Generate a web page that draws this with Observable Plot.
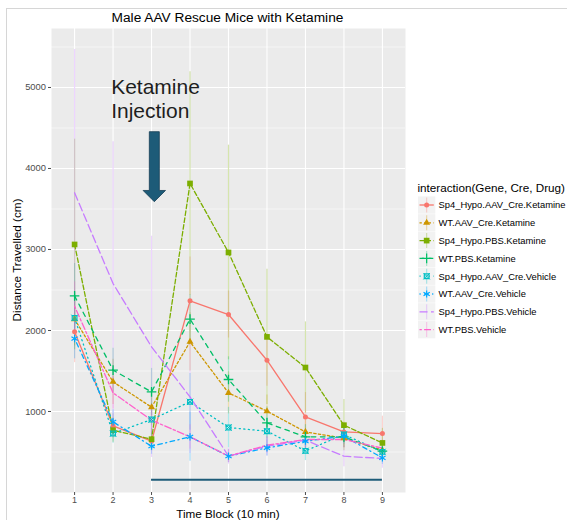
<!DOCTYPE html>
<html><head><meta charset="utf-8">
<script src="https://cdn.jsdelivr.net/npm/d3@7"></script>
<script src="https://cdn.jsdelivr.net/npm/@observablehq/plot@0.6"></script>
<style>
body{margin:0;background:#fff;font-family:"Liberation Sans",Arial,sans-serif}
#wrap{position:relative;width:567px;height:520px;overflow:hidden}
#frame{position:absolute;left:6px;top:8px;width:700px;height:700px;border-left:1px solid #D6D6D6;border-top:1px solid #D6D6D6;pointer-events:none}
</style>
</head><body><div id="wrap"><div id="chart"></div><div id="frame"></div></div>
<script>
// ---------------- data ----------------
const blocks = [1, 2, 3, 4, 5, 6, 7, 8, 9];
const groups = ["Sp4_Hypo.AAV_Cre.Ketamine", "WT.AAV_Cre.Ketamine", "Sp4_Hypo.PBS.Ketamine", "WT.PBS.Ketamine",
                "Sp4_Hypo.AAV_Cre.Vehicle", "WT.AAV_Cre.Vehicle", "Sp4_Hypo.PBS.Vehicle", "WT.PBS.Vehicle"];
const colors = ["#F8766D", "#CD9600", "#7CAE00", "#00BE67", "#00BFC4", "#00A9FF", "#C77CFF", "#FF61CC"];

const sp4AavKetMean = [1983, 822, 633, 2366, 2197, 1633, 933, 748, 728];
const sp4AavKetErr  = [380, 150, 120, 540, 290, 320, 300, 120, 214];
const wtAavKetMean  = [2140, 1366, 1053, 1860, 1230, 1004, 748, 670, 522];
const wtAavKetErr   = [330, 280, 230, 360, 260, 200, 150, 120, 100];
const sp4PbsKetMean = [3062, 769, 658, 3815, 2963, 1921, 1543, 831, 612];
const sp4PbsKetErr  = [1300, 150, 130, 1380, 1325, 836, 563, 317, 180];
const wtPbsKetMean  = [2427, 1510, 1242, 2140, 1395, 859, 687, 687, 510];
const wtPbsKetErr   = [400, 270, 290, 300, 280, 200, 150, 130, 100];
const sp4AavVehMean = [2156, 728, 901, 1119, 802, 757, 514, 716, 501];
const sp4AavVehErr  = [300, 120, 200, 350, 250, 170, 120, 100, 80];
const wtAavVehMean  = [1900, 872, 571, 687, 448, 551, 633, 695, 427];
const wtAavVehErr   = [250, 150, 100, 300, 80, 100, 100, 100, 80];
const sp4PbsVehMean = [3700, 2580, 1798, 1180, 450, 572, 646, 448, 420];
const sp4PbsVehErr  = [1770, 1750, 1366, 700, 100, 120, 120, 130, 120];
const wtPbsVehMean  = [2300, 1230, 893, 687, 450, 584, 654, 654, 547];
const wtPbsVehErr   = [300, 200, 150, 150, 80, 100, 100, 100, 100];

const seriesMeans = [sp4AavKetMean, wtAavKetMean, sp4PbsKetMean, wtPbsKetMean, sp4AavVehMean, wtAavVehMean, sp4PbsVehMean, wtPbsVehMean];
const seriesErrs  = [sp4AavKetErr, wtAavKetErr, sp4PbsKetErr, wtPbsKetErr, sp4AavVehErr, wtAavVehErr, sp4PbsVehErr, wtPbsVehErr];

const yTicks = [1000, 2000, 3000, 4000, 5000];
const yMinor = [500, 1500, 2500, 3500, 4500, 5500];

const titleText = "Male AAV Rescue Mice with Ketamine";
const xTitle = "Time Block (10 min)";
const yTitle = "Distance Travelled (cm)";
const legendTitle = "interaction(Gene, Cre, Drug)";
const annotText = ["Ketamine\nInjection"];
const annotX = [1.95];
const annotY = [5125];
const arrowX = 3.085, arrowTop = 4448, arrowTip = 3584;
const barX1 = [3], barX2 = [9], barY = [157];

// ---------------- styles ----------------
const u = 1.15;
const dashOf = s => s === null ? null : s.split("").map(c => parseInt(c, 16) * u).join(",");
const linetypes = [null, "22", "42", "44", "13", "1343", "73", "2262"];
const shapes = ["circle", "triangle", "square", "plus", "sqx", "asterisk", null, null];

const rows = [];
groups.forEach((g, i) => blocks.forEach((b, j) => rows.push({
  block: b, group: g, mean: seriesMeans[i][j],
  lo: seriesMeans[i][j] - seriesErrs[i][j], hi: seriesMeans[i][j] + seriesErrs[i][j]
})));

function pointMarks(data, i) {
  const c = colors[i], s = shapes[i], out = [];
  const base = {x: "block", y: "mean"};
  if (s === "circle") out.push(Plot.dot(data, {...base, symbol: "circle", r: 2.5, fill: c, stroke: "none"}));
  if (s === "triangle") out.push(Plot.dot(data, {...base, symbol: "triangle", r: 2.6, fill: c, stroke: "none"}));
  if (s === "square") out.push(Plot.dot(data, {...base, symbol: "square", r: 3.2, fill: c, stroke: "none"}));
  if (s === "plus") out.push(Plot.dot(data, {...base, symbol: "plus", r: 3.2, fill: "none", stroke: c, strokeWidth: 1.3}));
  if (s === "sqx") {
    out.push(Plot.dot(data, {...base, symbol: "square2", r: 3.0, fill: "none", stroke: c, strokeWidth: 1.2}));
    out.push(Plot.dot(data, {...base, symbol: "times", r: 3.0, fill: "none", stroke: c, strokeWidth: 1.0}));
  }
  if (s === "asterisk") out.push(Plot.dot(data, {...base, symbol: "asterisk", r: 3.4, fill: "none", stroke: c, strokeWidth: 1.2}));
  return out;
}

const lineMarks = groups.map((g, i) => Plot.line(rows.filter(r => r.group === g), {
  x: "block", y: "mean", stroke: colors[i], strokeWidth: 1.3, strokeDasharray: dashOf(linetypes[i])
}));
const dotMarks = groups.flatMap((g, i) => pointMarks(rows.filter(r => r.group === g), i));

// decorations (arrow, titles, legend) drawn through the plot's scales
function decor(index, scales, values, dimensions) {
  const g = d3.create("svg:g").attr("text-anchor", "start");
  const x = scales.x, y = scales.y;
  // arrow
  const ax = x(arrowX), at = y(arrowTop), tip = y(arrowTip);
  const hw = 5, hh = 11.2, hwid = 11.2;
  const hb = tip - hh;
  g.append("path")
    .attr("d", `M${ax - hw},${at}L${ax + hw},${at}L${ax + hw},${hb}L${ax + hwid},${hb}L${ax},${tip}L${ax - hwid},${hb}L${ax - hw},${hb}Z`)
    .attr("fill", "#1D5B78").attr("stroke", "#163F55").attr("stroke-width", 0.8);
  // titles
  g.append("text").attr("x", 227.5).attr("y", 22).attr("text-anchor", "middle")
    .attr("font-size", 13.7).attr("fill", "#000").text(titleText);
  g.append("text").attr("x", 228).attr("y", 517.5).attr("text-anchor", "middle")
    .attr("font-size", 11.7).attr("fill", "#000").text(xTitle);
  g.append("text").attr("transform", "translate(21,260) rotate(-90)").attr("text-anchor", "middle")
    .attr("font-size", 11.7).attr("fill", "#000").text(yTitle);
  // legend
  const lx = 418, ly0 = 205, step = 17.8;
  g.append("text").attr("x", lx - 0.5).attr("y", 192).attr("text-anchor", "start").attr("font-size", 11.7).attr("fill", "#000").text(legendTitle);
  groups.forEach((name, i) => {
    const cy = ly0 + i * step;
    const c = colors[i];
    g.append("rect").attr("x", lx).attr("y", cy - 8.6).attr("width", 17.3).attr("height", 17.3).attr("fill", "#F2F2F2");
    g.append("line").attr("x1", lx + 8.65).attr("x2", lx + 8.65).attr("y1", cy - 7.5).attr("y2", cy + 7.5)
      .attr("stroke", c).attr("stroke-opacity", 0.3).attr("stroke-width", 1.2);
    g.append("line").attr("x1", lx + 1.5).attr("x2", lx + 15.8).attr("y1", cy).attr("y2", cy)
      .attr("stroke", c).attr("stroke-width", 1.3).attr("stroke-dasharray", dashOf(linetypes[i]));
    const s = shapes[i];
    const sym = {circle: d3.symbolCircle, triangle: d3.symbolTriangle, square: d3.symbolSquare, plus: d3.symbolPlus, asterisk: d3.symbolAsterisk}[s];
    const rr = {circle: 2.5, triangle: 2.6, square: 3.2, plus: 3.2, asterisk: 3.4}[s];
    if (sym) {
      const filled = s === "circle" || s === "triangle" || s === "square";
      g.append("path").attr("transform", `translate(${lx + 8.65},${cy})`)
        .attr("d", d3.symbol(sym, Math.PI * rr * rr)())
        .attr("fill", filled ? c : "none").attr("stroke", filled ? "none" : c).attr("stroke-width", 1.2);
    }
    if (s === "sqx") {
      g.append("path").attr("transform", `translate(${lx + 8.65},${cy})`).attr("d", d3.symbol(d3.symbolSquare2, Math.PI * 9)())
        .attr("fill", "none").attr("stroke", c).attr("stroke-width", 1.2);
      g.append("path").attr("transform", `translate(${lx + 8.65},${cy})`).attr("d", d3.symbol(d3.symbolTimes, Math.PI * 9)())
        .attr("fill", "none").attr("stroke", c).attr("stroke-width", 1.0);
    }
    g.append("text").attr("x", 438.5).attr("y", cy + 3.4).attr("text-anchor", "start").attr("font-size", 9.4).attr("fill", "#000").text(name);
  });
  return g.node();
}

const plot = Plot.plot({
  width: 567, height: 520,
  marginLeft: 51, marginRight: 162, marginTop: 28, marginBottom: 28,
  style: {background: "transparent", fontFamily: "'Liberation Sans', Arial, sans-serif", overflow: "visible"},
  x: {domain: [0.4, 9.6]},
  y: {domain: [0, 5728]},
  marks: [
    Plot.frame({fill: "#EBEBEB", stroke: "none"}),
    Plot.ruleY(yMinor, {stroke: "#FFFFFF", strokeWidth: 0.55}),
    Plot.ruleY(yTicks, {stroke: "#FFFFFF", strokeWidth: 1.1}),
    Plot.ruleX(blocks, {stroke: "#FFFFFF", strokeWidth: 1.1}),
    Plot.axisX({ticks: blocks, tickSize: 3, tickPadding: 1.5, fontSize: 9, color: "#4D4D4D", label: null, tickFormat: d => String(d)}),
    Plot.axisY({ticks: yTicks, tickSize: 3, tickPadding: 2.5, fontSize: 9.4, color: "#4D4D4D", label: null, tickFormat: d => String(d)}),
    Plot.ruleX(rows, {x: "block", y1: "lo", y2: "hi", stroke: d => colors[groups.indexOf(d.group)], strokeOpacity: 0.32, strokeWidth: 1.2}),
    ...lineMarks,
    ...dotMarks,
    Plot.text(annotText, {x: annotX, y: annotY, text: d => d, textAnchor: "start", lineAnchor: "top", fontSize: 21, lineHeight: 1.13, fill: "#1E1E1E"}),
    Plot.ruleY(barY, {x1: barX1, x2: barX2, y: barY, stroke: "#1D5B78", strokeWidth: 2}),
    decor
  ]
});
document.getElementById("chart").appendChild(plot);
</script>
</body></html>
